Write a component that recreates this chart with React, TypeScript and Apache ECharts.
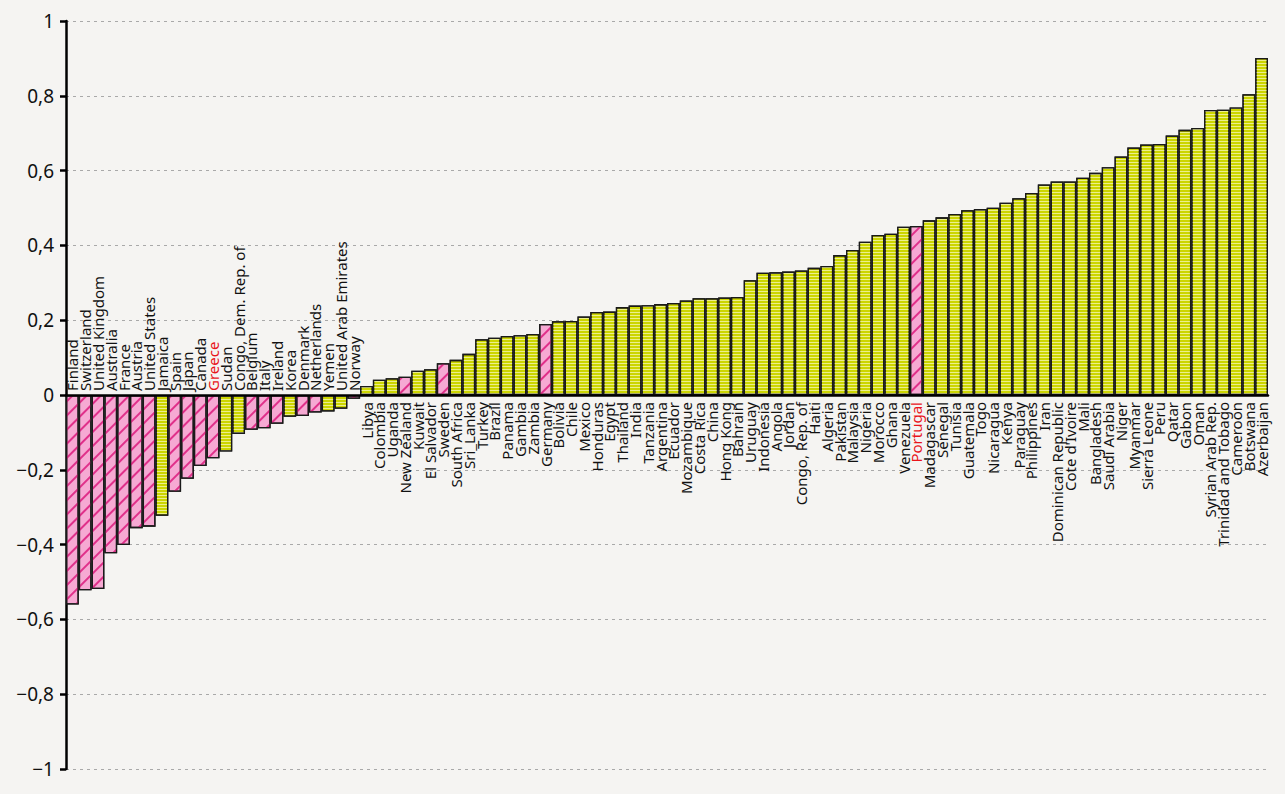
import React, { useEffect, useRef } from "react";
import * as echarts from "echarts";

const categories: string[] = [
  "Finland", "Switzerland", "United Kingdom", "Australia", "France", "Austria", "United States",
  "Jamaica", "Spain", "Japan", "Canada", "Greece", "Sudan", "Congo, Dem. Rep. of", "Belgium",
  "Italy", "Ireland", "Korea", "Denmark", "Netherlands", "Yemen", "United Arab Emirates", "Norway",
  "Libya", "Colombia", "Uganda", "New Zealand", "Kuwait", "El Salvador", "Sweden", "South Africa",
  "Sri_Lanka", "Turkey", "Brazil", "Panama", "Gambia", "Zambia", "Germany", "Bolivia", "Chile",
  "Mexico", "Honduras", "Egypt", "Thailand", "India", "Tanzania", "Argentina", "Ecuador",
  "Mozambique", "Costa Rica", "China", "Hong Kong", "Bahrain", "Uruguay", "Indonesia", "Angola",
  "Jordan", "Congo, Rep. of", "Haiti", "Algeria", "Pakistan", "Malaysia", "Nigeria", "Morocco",
  "Ghana", "Venezuela", "Portugal", "Madagascar", "Senegal", "Tunisia", "Guatemala", "Togo",
  "Nicaragua", "Kenya", "Paraguay", "Philippines", "Iran", "Dominican Republic", "Cote d'Ivoire",
  "Mali", "Bangladesh", "Saudi Arabia", "Niger", "Myanmar", "Sierra Leone", "Peru", "Qatar",
  "Gabon", "Oman", "Syrian Arab Rep.", "Trinidad and Tobago", "Cameroon", "Botswana", "Azerbaijan",
];

const values: number[] = [
  -0.56, -0.522, -0.519, -0.423, -0.401, -0.356, -0.352,
  -0.323, -0.259, -0.224, -0.19, -0.169, -0.151, -0.104, -0.093,
  -0.089, -0.077, -0.058, -0.056, -0.047, -0.044, -0.037, -0.01,
  0.024, 0.041, 0.045, 0.049, 0.065, 0.069, 0.085, 0.094,
  0.11, 0.149, 0.153, 0.158, 0.16, 0.163, 0.19, 0.197, 0.198,
  0.21, 0.222, 0.223, 0.235, 0.239, 0.24, 0.243, 0.246,
  0.253, 0.259, 0.259, 0.261, 0.262, 0.307, 0.327, 0.328,
  0.33, 0.333, 0.34, 0.345, 0.374, 0.388, 0.41, 0.428,
  0.431, 0.45, 0.452, 0.467, 0.475, 0.484, 0.494, 0.497,
  0.501, 0.514, 0.526, 0.54, 0.563, 0.571, 0.571,
  0.581, 0.594, 0.609, 0.638, 0.662, 0.67, 0.671, 0.694,
  0.709, 0.714, 0.762, 0.763, 0.769, 0.804, 0.901,
];

const hatchedCountries: string[] = [
  "Finland", "Switzerland", "United Kingdom", "Australia", "France", "Austria", "United States",
  "Spain", "Japan", "Canada", "Greece", "Belgium", "Italy", "Ireland", "Denmark", "Netherlands",
  "Norway", "New Zealand", "Sweden", "Germany", "Portugal",
];

const redLabels: string[] = ["Greece", "Portugal"];

const yMin = -1;
const yMax = 1;
const yInterval = 0.2;

const FONT = "'Noto Sans', 'Open Sans', sans-serif";

export default function App() {
  const ref = useRef<HTMLDivElement>(null);

  useEffect(() => {
    document.body.style.margin = "0";
    document.body.style.background = "#f5f4f2";
    const chart = echarts.init(ref.current!, null, { renderer: "svg" });

    const yellowStyle = {
      color: "#ccd500",
      borderColor: "#1a1a1a",
      borderWidth: 1.3,
      decal: {
        symbol: "rect",
        symbolSize: 1,
        color: "rgba(255,255,225,0.62)",
        dashArrayX: [1, 0],
        dashArrayY: [1, 2],
        rotation: 0,
      },
    };
    const pinkStyle = {
      color: "#f6a9d3",
      borderColor: "#1a1a1a",
      borderWidth: 1.3,
      decal: {
        symbol: "rect",
        symbolSize: 1,
        color: "#e0308a",
        dashArrayX: [1, 0],
        dashArrayY: [1.3, 8],
        rotation: -Math.PI / 4,
      },
    };

    const data = values.map((v, i) => {
      const name = categories[i];
      const color = redLabels.includes(name) ? "#e8141b" : "#111";
      return {
        value: v,
        itemStyle: hatchedCountries.includes(name) ? pinkStyle : yellowStyle,
        label:
          v >= 0
            ? { position: "bottom", distance: 7, align: "right", verticalAlign: "middle", color }
            : { position: "top", distance: 4, align: "left", verticalAlign: "middle", color },
      };
    });

    chart.setOption({
      animation: false,
      backgroundColor: "#f5f4f2",
      grid: { left: 66, right: 17, top: 21, bottom: 25, containLabel: false, outerBoundsMode: "none" },
      xAxis: {
        type: "category",
        data: categories,
        position: "bottom",
        axisLine: { onZero: true, lineStyle: { color: "#000", width: 2.5 } },
        axisTick: { show: false },
        axisLabel: { show: false },
        z: 5,
      },
      yAxis: {
        type: "value",
        min: yMin,
        max: yMax,
        interval: yInterval,
        axisLine: { show: true, lineStyle: { color: "#000", width: 2.5 } },
        axisTick: { show: true, length: 6, lineStyle: { color: "#000", width: 2.5 } },
        axisLabel: {
          margin: 12,
          fontFamily: FONT,
          fontSize: 19,
          color: "#111",
          formatter: (v: number) => {
            const r = Math.round(v * 10) / 10;
            return String(r).replace(".", ",").replace("-", "\u2212");
          },
        },
        splitLine: { show: true, lineStyle: { color: "#a9a9a9", width: 1, type: [3, 4] } },
      },
      series: [
        {
          type: "bar",
          data,
          barCategoryGap: "0%",
          barGap: "0%",
          label: {
            show: true,
            rotate: 90,
            formatter: "{b}",
            fontFamily: FONT,
            fontSize: 15,
            color: "#111",
          },
        },
      ],
    });

    return () => chart.dispose();
  }, []);

  return <div ref={ref} style={{ width: 1285, height: 794, background: "#f5f4f2" }} />;
}
